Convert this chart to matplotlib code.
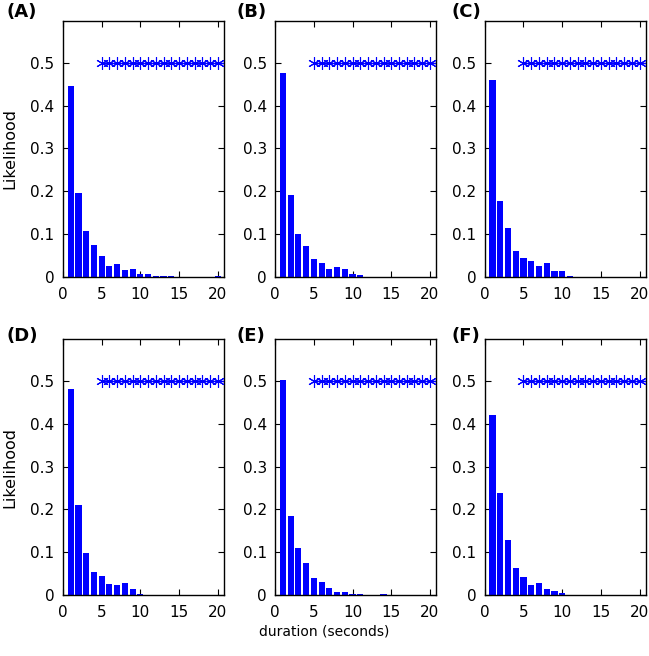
import matplotlib
matplotlib.use('Agg')
import matplotlib.pyplot as plt
import numpy as np

# ----- data -----
DURATION = np.arange(1, 21)          # bin centres (seconds)
SIG_X = np.arange(5, 21)             # asterisk row at 0.5
SIG_Y = 0.5

LIK_A = [0.446, 0.195, 0.108, 0.074, 0.048, 0.025, 0.031, 0.016, 0.019, 0.007,
         0.006, 0.003, 0.003, 0.001, 0.0, 0.0, 0.0, 0.0, 0.0, 0.003]
LIK_B = [0.477, 0.191, 0.099, 0.072, 0.042, 0.033, 0.019, 0.024, 0.019, 0.006,
         0.004, 0.0, 0.0, 0.0, 0.0, 0.0, 0.0, 0.0, 0.0, 0.0]
LIK_C = [0.461, 0.178, 0.113, 0.061, 0.045, 0.037, 0.025, 0.033, 0.014, 0.014,
         0.002, 0.0, 0.0, 0.0, 0.0, 0.0, 0.0, 0.0, 0.0, 0.0]
LIK_D = [0.482, 0.210, 0.097, 0.053, 0.045, 0.025, 0.023, 0.027, 0.013, 0.002,
         0.001, 0.0, 0.0, 0.0, 0.0, 0.0, 0.0, 0.0, 0.0, 0.0]
LIK_E = [0.502, 0.184, 0.110, 0.074, 0.039, 0.031, 0.016, 0.008, 0.006, 0.003,
         0.002, 0.001, 0.0, 0.002, 0.0, 0.0, 0.0, 0.0, 0.0, 0.0]
LIK_F = [0.420, 0.239, 0.128, 0.064, 0.043, 0.023, 0.028, 0.015, 0.009, 0.005,
         0.0, 0.001, 0.0, 0.001, 0.0, 0.0, 0.0, 0.0, 0.0, 0.0]

PANELS = ['(A)', '(B)', '(C)', '(D)', '(E)', '(F)']
SERIES = [LIK_A, LIK_B, LIK_C, LIK_D, LIK_E, LIK_F]

X_TICKS = [0, 5, 10, 15, 20]
Y_TICKS = [0, 0.1, 0.2, 0.3, 0.4, 0.5]
Y_TICKLABELS = ['0', '0.1', '0.2', '0.3', '0.4', '0.5']

BLUE = '#0000FF'

fig = plt.figure(figsize=(6.49, 6.56), dpi=100, facecolor='white')

W, H = 0.248, 0.390
LEFTS = [0.097, 0.424, 0.747]
BOTTOMS = [0.578, 0.093]
# panel letters sit in figure coords, not tied to the axes
LABEL_X = [0.010, 0.365, 0.696]
LABEL_Y = [0.982, 0.488]

for i, (label, vals) in enumerate(zip(PANELS, SERIES)):
    row, col = divmod(i, 3)
    ax = fig.add_axes([LEFTS[col], BOTTOMS[row], W, H])
    ax.bar(DURATION, vals, width=0.8, color=BLUE, linewidth=0, zorder=2)
    # significance row: line to the right edge + asterisks
    ax.plot([SIG_X[0], 21], [SIG_Y, SIG_Y], color=BLUE, linewidth=1.0, zorder=3)
    ax.plot(SIG_X, [SIG_Y] * len(SIG_X), linestyle='none', marker=(6, 2, 0),
            markersize=9, markeredgewidth=0.8, color=BLUE, zorder=4)

    ax.set_xlim(0, 20.8)
    ax.set_ylim(0, 0.598)
    ax.set_xticks(X_TICKS)
    ax.set_yticks(Y_TICKS)
    ax.set_yticklabels(Y_TICKLABELS)
    ax.tick_params(direction='in', top=True, right=True, length=4,
                   width=0.8, labelsize=11)
    ax.tick_params(axis='x', pad=7)
    ax.tick_params(axis='y', pad=6)
    for s in ax.spines.values():
        s.set_linewidth(1.0)

    if col == 0:
        ax.set_ylabel('Likelihood', fontsize=11.5, labelpad=9)

    fig.text(LABEL_X[col], LABEL_Y[row], label, fontsize=13,
             fontweight='bold', ha='left', va='center')

fig.text(0.5, 0.038, 'duration (seconds)', ha='center', va='center', fontsize=10)

fig.savefig('out.png', dpi=100, facecolor='white')
